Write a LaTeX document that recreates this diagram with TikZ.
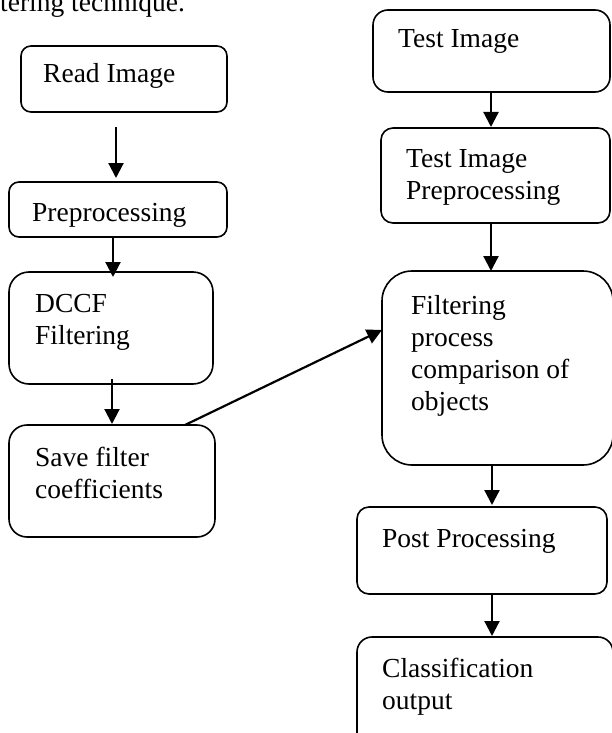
\documentclass[tikz,border=0pt]{standalone}
\usepackage{fontspec}
\setmainfont{Liberation Serif}
\usepackage{tikz}
\usetikzlibrary{arrows.meta}
\tikzstyle{block}=[draw, line width=1.6pt, inner sep=0pt, outer sep=0pt]
\tikzstyle{lbl}=[anchor=base west, align=left, inner sep=0pt, font=\fontsize{27.5}{32}\selectfont]
\tikzstyle{flow}=[line width=2.2pt, -{Triangle[length=15pt,width=15pt]}]
\begin{document}
\begin{tikzpicture}[x=1pt, y=-1pt]
	\useasboundingbox (0,0) rectangle (611,733);
	\node[lbl] (cap) at (0,12) {tering technique.};
	% left column
	\node[block, rounded corners=10pt, minimum width=206pt, minimum height=66pt]  (read) at (124,79)    {};
	\node[block, rounded corners=10pt, minimum width=218pt, minimum height=55pt]  (pre)  at (118,209.5) {};
	\node[block, rounded corners=20pt, minimum width=204pt, minimum height=112pt] (dccf) at (111,328)   {};
	\node[block, rounded corners=18pt, minimum width=206pt, minimum height=112pt] (save) at (112,481)   {};
	\node[lbl] (readT) at (43,83)  {Read Image};
	\node[lbl] (preT)  at (32,221) {Preprocessing};
	\node[lbl] (dccfT) at (35,344) {DCCF\\Filtering};
	\node[lbl] (saveT) at (35,498) {Save filter\\coefficients};
	% right column
	\node[block, rounded corners=15pt, minimum width=237pt, minimum height=82pt]  (test) at (491.5,51)  {};
	\node[block, rounded corners=12pt, minimum width=229pt, minimum height=95pt]  (tpre) at (495.5,175.5) {};
	\node[block, rounded corners=30pt, minimum width=231pt, minimum height=194pt] (filt) at (497.5,368) {};
	\node[block, rounded corners=12pt, minimum width=250pt, minimum height=87pt]  (post) at (482,550.5) {};
	\node[block, rounded corners=15pt, minimum width=256pt, minimum height=113pt] (cls)  at (485,693.5) {};
	\node[lbl] (testT) at (398,48)  {Test Image};
	\node[lbl] (tpreT) at (406,199) {Test Image\\Preprocessing};
	\node[lbl] (filtT) at (411,410) {Filtering\\process\\comparison of\\objects};
	\node[lbl] (postT) at (382,547) {Post Processing};
	\node[lbl] (clsT)  at (382,709) {Classification\\output};
	% connectors
	\draw[flow, shorten <=15pt, shorten >=4pt] ([xshift=-8pt]read.south) -- ([xshift=-2pt]pre.north);
	\draw[flow, shorten >=-5pt] ([xshift=-5pt]pre.south) -- ([xshift=2pt]dccf.north);
	\draw[flow, shorten >=1pt] ([xshift=1pt,yshift=5pt]dccf.south) -- (save.north);
	\draw[flow] ([xshift=73pt]save.north) -- ([yshift=38pt]filt.west);
	\draw[flow, shorten >=1pt] ([xshift=-0.5pt]test.south) -- ([xshift=-4.5pt]tpre.north);
	\draw[flow] ([xshift=-4.5pt]tpre.south) -- ([xshift=-6.5pt]filt.north);
	\draw[flow, shorten >=2pt] ([xshift=-5.5pt]filt.south) -- ([xshift=10pt]post.north);
	\draw[flow, shorten >=1pt] ([xshift=10pt]post.south) -- ([xshift=7pt]cls.north);
\end{tikzpicture}
\end{document}
